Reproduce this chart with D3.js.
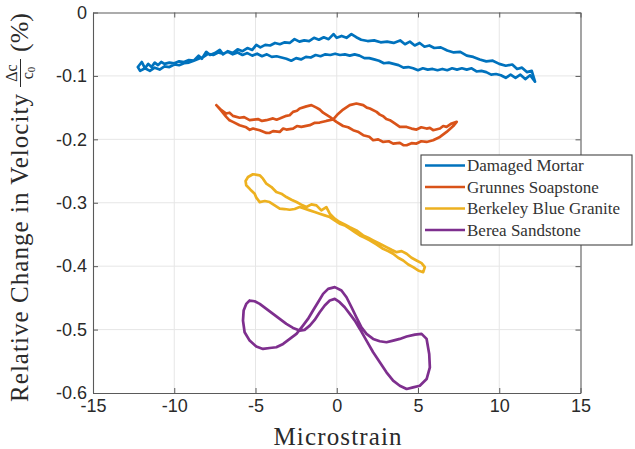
<!DOCTYPE html>
<html><head><meta charset="utf-8">
<script src="https://cdn.jsdelivr.net/npm/d3@7"></script>
<style>body{margin:0;background:#fff}svg{display:block}</style>
</head><body><svg id="c" width="635" height="449"></svg>
<script>
const xTicks=[-15,-10,-5,0,5,10,15];
const yTicks=[0,-0.1,-0.2,-0.3,-0.4,-0.5,-0.6];
const seriesNames=["Damaged Mortar","Grunnes Soapstone","Berkeley Blue Granite","Berea Sandstone"];
const seriesColors=["#0072BD","#D95319","#EDB120","#7E2F8E"];

const damagedMortar=[
[-12.24,-0.086],[-12.0,-0.078],[-11.8,-0.088],[-11.6,-0.081],[-11.4,-0.086],[-11.2,-0.079],[-11.0,-0.083],[-10.8,-0.078],[-10.6,-0.081],[-10.3,-0.079],[-10.0,-0.080],[-9.7,-0.077],[-9.4,-0.078],[-9.1,-0.075],[-8.8,-0.076],[-8.5,-0.068],[-8.3,-0.073],[-8.03,-0.062],[-7.8,-0.067],[-7.5,-0.064],[-7.2,-0.059],[-7.0,-0.066],[-6.7,-0.061],[-6.4,-0.064],[-6.1,-0.058],[-5.8,-0.061],[-5.5,-0.056],[-5.2,-0.059],[-4.95,-0.051],[-4.7,-0.055],[-4.4,-0.051],[-4.1,-0.052],[-3.8,-0.048],[-3.5,-0.050],[-3.2,-0.047],[-2.9,-0.048],[-2.6,-0.042],[-2.3,-0.046],[-2.0,-0.044],[-1.7,-0.045],[-1.4,-0.040],[-1.1,-0.043],[-0.8,-0.039],[-0.5,-0.042],[-0.2,-0.034],[0.0,-0.040],[0.3,-0.037],[0.6,-0.040],[0.9,-0.034],[1.2,-0.039],[1.5,-0.043],[1.9,-0.045],[2.3,-0.044],[2.7,-0.047],[3.1,-0.046],[3.5,-0.048],[3.9,-0.044],[4.2,-0.050],[4.5,-0.046],[4.8,-0.052],[5.1,-0.048],[5.4,-0.054],[5.7,-0.052],[6.0,-0.056],[6.4,-0.055],[6.8,-0.060],[7.2,-0.063],[7.6,-0.062],[8.0,-0.068],[8.4,-0.070],[8.8,-0.074],[9.2,-0.077],[9.6,-0.076],[10.0,-0.081],[10.4,-0.084],[10.8,-0.082],[11.1,-0.089],[11.4,-0.087],[11.7,-0.094],[12.0,-0.092],[12.2,-0.109],
[11.9,-0.099],[11.6,-0.105],[11.3,-0.098],[11.0,-0.103],[10.7,-0.098],[10.4,-0.103],[10.1,-0.099],[9.8,-0.097],[9.5,-0.098],[9.2,-0.094],[8.9,-0.092],[8.6,-0.093],[8.3,-0.088],[8.0,-0.090],[7.7,-0.088],[7.4,-0.090],[7.1,-0.088],[6.8,-0.091],[6.5,-0.089],[6.2,-0.091],[5.9,-0.089],[5.6,-0.090],[5.3,-0.088],[5.0,-0.091],[4.7,-0.088],[4.4,-0.086],[4.1,-0.087],[3.8,-0.083],[3.5,-0.081],[3.2,-0.079],[2.9,-0.080],[2.6,-0.076],[2.3,-0.074],[2.0,-0.072],[1.7,-0.072],[1.4,-0.068],[1.1,-0.066],[0.8,-0.068],[0.5,-0.066],[0.2,-0.067],[-0.1,-0.065],[-0.4,-0.067],[-0.7,-0.066],[-1.0,-0.069],[-1.3,-0.067],[-1.6,-0.071],[-1.9,-0.070],[-2.2,-0.074],[-2.5,-0.072],[-2.8,-0.076],[-3.1,-0.073],[-3.4,-0.071],[-3.7,-0.069],[-4.0,-0.070],[-4.3,-0.066],[-4.6,-0.069],[-4.9,-0.065],[-5.2,-0.068],[-5.5,-0.064],[-5.8,-0.067],[-6.1,-0.063],[-6.4,-0.066],[-6.7,-0.062],[-7.0,-0.065],[-7.3,-0.063],[-7.6,-0.067],[-7.9,-0.065],[-8.2,-0.070],[-8.5,-0.073],[-8.8,-0.076],[-9.1,-0.079],[-9.4,-0.080],[-9.7,-0.083],[-10.0,-0.082],[-10.3,-0.086],[-10.6,-0.085],[-10.9,-0.090],[-11.2,-0.087],[-11.5,-0.092],[-11.8,-0.088],[-12.1,-0.092],[-12.24,-0.086]
];

const grunnesSoapstone=[
[-7.41,-0.1461],[-7.1,-0.154],[-6.80,-0.1593],[-6.6,-0.158],[-6.39,-0.163],[-5.98,-0.166],[-5.7,-0.165],[-5.36,-0.1698],[-4.85,-0.168],[-4.6,-0.171],[-4.33,-0.1698],[-3.92,-0.167],[-3.7,-0.169],[-3.51,-0.1672],[-3.10,-0.163],[-2.9,-0.162],[-2.69,-0.1567],[-2.45,-0.155],[-2.28,-0.1514],[-1.87,-0.148],[-1.56,-0.1461],[-1.25,-0.150],[-1.05,-0.153],[-0.84,-0.158],[-0.43,-0.1646],[-0.02,-0.1725],[0.39,-0.179],[0.7,-0.181],[1.01,-0.1856],[1.3,-0.188],[1.63,-0.1935],[2.0,-0.196],[2.24,-0.2014],[2.55,-0.200],[2.86,-0.2041],[3.2,-0.203],[3.47,-0.2067],[3.88,-0.2055],[4.1,-0.209],[4.30,-0.2093],[4.6,-0.206],[4.91,-0.2067],[5.2,-0.203],[5.53,-0.2041],[5.93,-0.2014],[6.35,-0.1962],[6.76,-0.1883],[7.17,-0.179],[7.38,-0.1725],
[7.07,-0.175],[6.76,-0.1804],[6.55,-0.179],[6.35,-0.183],[5.93,-0.1856],[5.73,-0.182],[5.53,-0.183],[5.2,-0.181],[4.91,-0.1846],[4.6,-0.183],[4.30,-0.1804],[3.88,-0.1804],[3.57,-0.175],[3.27,-0.1698],[3.05,-0.168],[2.86,-0.1635],[2.65,-0.161],[2.45,-0.1567],[2.04,-0.1514],[1.85,-0.150],[1.63,-0.1461],[1.21,-0.1435],[0.80,-0.1461],[0.39,-0.153],[0.08,-0.160],[-0.23,-0.1688],[-0.64,-0.171],[-1.05,-0.1735],[-1.35,-0.174],[-1.66,-0.1777],[-2.18,-0.1804],[-2.45,-0.179],[-2.69,-0.183],[-3.10,-0.1846],[-3.3,-0.183],[-3.51,-0.1883],[-3.92,-0.187],[-4.15,-0.190],[-4.33,-0.1899],[-4.74,-0.1856],[-5.15,-0.183],[-5.35,-0.185],[-5.57,-0.181],[-5.98,-0.1777],[-6.39,-0.1725],[-6.6,-0.170],[-6.80,-0.1646],[-7.1,-0.155],[-7.41,-0.1461]
];

const berkeleyBlueGranite=[
[-5.46,-0.2594],[-5.16,-0.2551],[-4.74,-0.2567],[-4.54,-0.262],[-4.33,-0.2699],[-4.02,-0.2752],[-3.72,-0.2831],[-3.41,-0.2857],[-3.10,-0.291],[-2.79,-0.2952],[-2.48,-0.2989],[-2.18,-0.303],[-1.87,-0.3068],[-1.56,-0.3026],[-1.25,-0.3041],[-0.95,-0.312],[-0.64,-0.3068],[-0.43,-0.3173],[-0.13,-0.3252],[0.18,-0.3305],[0.49,-0.3342],[0.80,-0.3384],[1.21,-0.3436],[1.62,-0.3515],[1.93,-0.3552],[2.24,-0.3594],[2.65,-0.3647],[3.06,-0.37],[3.37,-0.3742],[3.68,-0.3779],[3.99,-0.3763],[4.30,-0.3805],[4.60,-0.3868],[4.91,-0.391],[5.22,-0.3952],[5.42,-0.4016],[5.32,-0.4095],
[5.01,-0.4068],[4.70,-0.4016],[4.40,-0.3973],[4.09,-0.391],[3.78,-0.3868],[3.47,-0.3805],[3.16,-0.3763],[2.85,-0.3726],[2.44,-0.3657],[2.03,-0.3594],[1.73,-0.3552],[1.42,-0.3515],[1.11,-0.3463],[0.80,-0.341],[0.49,-0.3357],[0.18,-0.3331],[-0.13,-0.3278],[-0.43,-0.3226],[-0.74,-0.3199],[-1.05,-0.3173],[-1.36,-0.3147],[-1.66,-0.312],[-1.97,-0.3094],[-2.28,-0.3068],[-2.59,-0.3099],[-2.90,-0.311],[-3.21,-0.3099],[-3.51,-0.3094],[-3.82,-0.3041],[-4.13,-0.2989],[-4.43,-0.2973],[-4.74,-0.2989],[-4.95,-0.292],[-5.05,-0.2857],[-5.31,-0.2794],[-5.57,-0.2725],[-5.61,-0.2657],[-5.46,-0.2594]
];

const bereaSandstone=[
[-5.36,-0.4542],[-5.05,-0.4553],[-4.74,-0.4595],[-4.33,-0.4674],[-3.92,-0.4753],[-3.51,-0.4832],[-3.10,-0.491],[-2.69,-0.4974],[-2.28,-0.5016],[-1.98,-0.5005],[-1.66,-0.4937],[-1.36,-0.4848],[-1.05,-0.4727],[-0.74,-0.4621],[-0.43,-0.4542],[-0.12,-0.4516],[0.18,-0.4568],[0.49,-0.4648],[0.80,-0.4753],[1.11,-0.4858],[1.42,-0.499],[1.83,-0.5174],[2.24,-0.5358],[2.65,-0.5516],[3.06,-0.5674],[3.47,-0.5806],[3.88,-0.5885],[4.30,-0.5937],[4.70,-0.5911],[5.11,-0.5885],[5.53,-0.578],[5.73,-0.5595],[5.69,-0.5384],[5.53,-0.5147],[5.22,-0.5068],[4.81,-0.5079],[4.30,-0.511],[3.88,-0.5147],[3.47,-0.5174],[3.06,-0.52],[2.65,-0.5184],[2.24,-0.5147],[1.83,-0.5068],[1.52,-0.4964],[1.21,-0.4806],[0.91,-0.4648],[0.60,-0.449],[0.29,-0.4384],[-0.12,-0.4331],[-0.53,-0.4358],[-0.84,-0.4437],[-1.15,-0.4568],[-1.46,-0.47],[-1.77,-0.4832],[-2.08,-0.4937],[-2.48,-0.5068],[-2.89,-0.5147],[-3.30,-0.5226],[-3.72,-0.5279],[-4.13,-0.529],[-4.54,-0.5305],[-4.95,-0.5268],[-5.36,-0.5174],[-5.67,-0.5042],[-5.77,-0.4858],[-5.73,-0.47],[-5.57,-0.4595],[-5.36,-0.4542]
];

const seriesData=[damagedMortar,grunnesSoapstone,berkeleyBlueGranite,bereaSandstone];

const svg=d3.select('#c');
const M={l:93,r:580.5,t:12.5,b:393};
const x=d3.scaleLinear().domain([-15,15]).range([M.l,M.r]);
const y=d3.scaleLinear().domain([-0.6,0]).range([M.b,M.t]);
const axisColor="#5a5a5a";
const textColor="#2a2a2a";
const tickFont='"Liberation Sans", Arial, sans-serif';
const serif='"Liberation Serif", "Times New Roman", serif';

svg.append('rect').attr('width',635).attr('height',449).attr('fill','#fff');

// grid
const grid=svg.append('g').attr('stroke','#e6e6e6').attr('stroke-width',1);
grid.selectAll('.gx').data(xTicks.slice(1,-1)).join('line')
  .attr('x1',d=>x(d)).attr('x2',d=>x(d)).attr('y1',M.t).attr('y2',M.b);
grid.selectAll('.gy').data(yTicks.slice(1,-1)).join('line')
  .attr('y1',d=>y(d)).attr('y2',d=>y(d)).attr('x1',M.l).attr('x2',M.r);

// series
const line=d3.line().x(d=>x(d[0])).y(d=>y(d[1]));
svg.append('g').selectAll('path').data(seriesData).join('path')
  .attr('d',line).attr('fill','none')
  .attr('stroke',(d,i)=>seriesColors[i]).attr('stroke-width',2.7)
  .attr('stroke-linejoin','round').attr('stroke-linecap','round');

// axes
function styleAxis(g,labels){
  g.select('.domain').attr('stroke',axisColor).attr('stroke-width',1.1);
  g.selectAll('.tick line').attr('stroke',axisColor);
  g.selectAll('.tick text').attr('fill',textColor).attr('font-family',tickFont).attr('font-size',18);
  if(!labels) g.selectAll('.tick text').remove();
}
svg.append('g').attr('transform',`translate(0,${M.b})`)
  .call(d3.axisBottom(x).tickValues(xTicks).tickSize(-5).tickSizeOuter(0).tickPadding(6).tickFormat(d=>String(d)))
  .call(g=>styleAxis(g,true));
svg.append('g').attr('transform',`translate(0,${M.t})`)
  .call(d3.axisTop(x).tickValues(xTicks).tickSize(-5).tickSizeOuter(0))
  .call(g=>styleAxis(g,false));
svg.append('g').attr('transform',`translate(${M.l},0)`)
  .call(d3.axisLeft(y).tickValues(yTicks).tickSize(-5).tickSizeOuter(0).tickPadding(6).tickFormat(d=>String(d)))
  .call(g=>styleAxis(g,true));
svg.append('g').attr('transform',`translate(${M.r},0)`)
  .call(d3.axisRight(y).tickValues(yTicks).tickSize(-5).tickSizeOuter(0))
  .call(g=>styleAxis(g,false));

// x label
svg.append('text').attr('x',337.5).attr('y',445).attr('text-anchor','middle')
  .attr('font-family',serif).attr('font-size',25).attr('fill',textColor)
  .attr('textLength',128).attr('lengthAdjust','spacing').text('Microstrain');

// y label (rotated; local x = -screenY)
const yl=svg.append('g').attr('transform','translate(28,0) rotate(-90)')
  .attr('font-family',serif).attr('fill',textColor);
yl.append('text').attr('x',-402).attr('y',0).attr('font-size',25)
  .attr('textLength',308).attr('lengthAdjust','spacing').text('Relative Change in Velocity');
const fx=-87, fw=28;
yl.append('text').attr('x',fx+fw/2).attr('y',-11).attr('text-anchor','middle').attr('font-size',16).text('Δc');
const den=yl.append('text').attr('x',fx+fw/2).attr('y',5).attr('text-anchor','middle').attr('font-size',16).text('c');
den.append('tspan').attr('font-size',11).attr('dy',2).text('0');
yl.append('line').attr('x1',fx).attr('x2',fx+fw).attr('y1',-7.5).attr('y2',-7.5).attr('stroke',textColor).attr('stroke-width',1);
yl.append('text').attr('x',-52).attr('y',0).attr('font-size',26).text('(%)');

// legend
const lg=svg.append('g');
lg.append('rect').attr('x',421).attr('y',155).attr('width',211).attr('height',90)
  .attr('fill','#fff').attr('stroke','#444').attr('stroke-width',1.1);
const rows=lg.selectAll('.row').data(seriesNames).join('g')
  .attr('transform',(d,i)=>`translate(0,${165.5+i*21.5})`);
rows.append('line').attr('x1',425).attr('x2',465).attr('y1',0).attr('y2',0)
  .attr('stroke',(d,i)=>seriesColors[i]).attr('stroke-width',2.7);
rows.append('text').attr('x',467).attr('y',0).attr('dy','0.35em')
  .attr('font-family',serif).attr('font-size',17).attr('fill','#333').text(d=>d);
</script></body></html>
